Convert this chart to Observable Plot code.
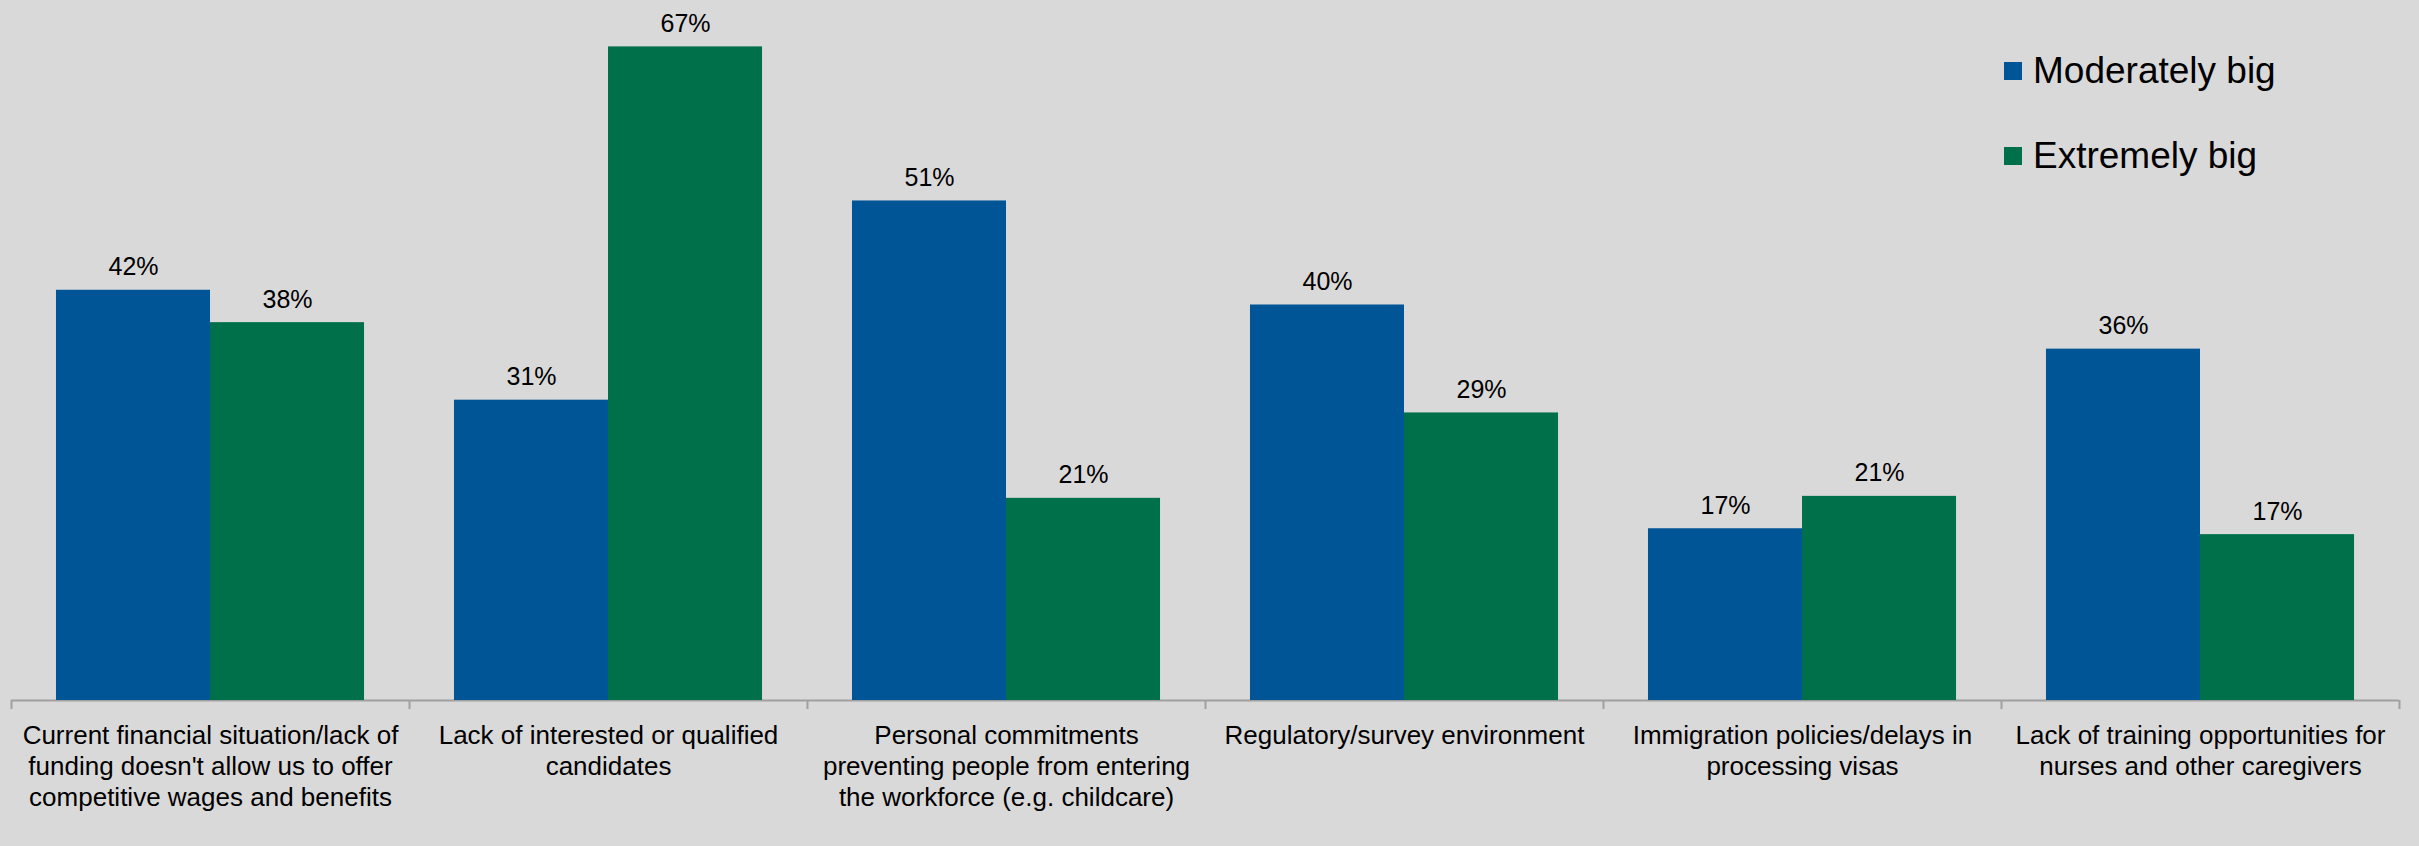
<!DOCTYPE html>
<html>
<head>
<meta charset="utf-8">
<script src="https://cdn.jsdelivr.net/npm/d3@7"></script>
<script src="https://cdn.jsdelivr.net/npm/@observablehq/plot@0.6"></script>
<style>
  html, body { margin: 0; padding: 0; background: #d9d9d9; }
  #wrap { position: relative; width: 2419px; height: 846px; overflow: hidden; }
  #legend { position: absolute; left: 2004px; top: 50px; }
  .lg-swatch { height: 42px; margin-bottom: 42px; font-size: 37px !important; color: #000; font-family: "Liberation Sans", Arial, sans-serif; }
  .lg-swatch svg { margin-right: 11px !important; }
</style>
</head>
<body>
<div id="wrap"><div id="chart"></div><div id="legend"></div></div>
<script>
const categories = [
  "Current financial situation/lack of funding doesn't allow us to offer competitive wages and benefits",
  "Lack of interested or qualified candidates",
  "Personal commitments preventing people from entering the workforce (e.g. childcare)",
  "Regulatory/survey environment",
  "Immigration policies/delays in processing visas",
  "Lack of training opportunities for nurses and other caregivers"
];
const tickLabels = [
  "Current financial situation/lack of\nfunding doesn't allow us to offer\ncompetitive wages and benefits",
  "Lack of interested or qualified\ncandidates",
  "Personal commitments\npreventing people from entering\nthe workforce (e.g. childcare)",
  "Regulatory/survey environment",
  "Immigration policies/delays in\nprocessing visas",
  "Lack of training opportunities for\nnurses and other caregivers"
];
const seriesNames = ["Moderately big", "Extremely big"];
// bar heights
const moderatelyBig = [41.8, 30.6, 50.9, 40.3, 17.5, 35.8];
const extremelyBig = [38.5, 66.6, 20.6, 29.3, 20.8, 16.9];
// value labels as printed
const moderatelyBigLabels = ["42%", "31%", "51%", "40%", "17%", "36%"];
const extremelyBigLabels = ["38%", "67%", "21%", "29%", "21%", "17%"];
const colors = ["#005596", "#00704a"];

const mod = categories.map((c, i) => ({category: c, series: seriesNames[0], value: moderatelyBig[i], label: moderatelyBigLabels[i]}));
const ext = categories.map((c, i) => ({category: c, series: seriesNames[1], value: extremelyBig[i], label: extremelyBigLabels[i]}));
const labels = categories.map((c, i) => ({category: c, label: tickLabels[i]}));

const W = 2419, H = 846;
const mL = 11, mR = 20, mT = 13, mB = 146;
const step = (W - mL - mR) / categories.length;
const outer = step * 0.113;
const barW = (step - 2 * outer) / 2;
const font = "'Liberation Sans', Arial, sans-serif";

const plot = Plot.plot({
  width: W, height: H,
  marginLeft: mL, marginRight: mR, marginTop: mT, marginBottom: mB,
  style: {background: "#d9d9d9", fontFamily: font},
  x: {domain: categories, padding: 0, axis: null},
  y: {domain: [0, 70], axis: null},
  color: {domain: seriesNames, range: colors},
  marks: [
    Plot.ruleY([0], {stroke: "#a0a0a0", strokeWidth: 2}),
    Plot.barY(mod, {x: "category", y: "value", fill: "series", insetLeft: outer, insetRight: outer + barW}),
    Plot.barY(ext, {x: "category", y: "value", fill: "series", insetLeft: outer + barW, insetRight: outer}),
    Plot.ruleX(categories, {x: d => d, y1: 0, y2: 0, insetBottom: -9, dx: -step / 2, stroke: "#a0a0a0", strokeWidth: 2}),
    Plot.ruleX(categories.slice(-1), {x: d => d, y1: 0, y2: 0, insetBottom: -9, dx: step / 2, stroke: "#a0a0a0", strokeWidth: 2}),
    Plot.text(mod, {x: "category", y: "value", text: "label", dx: -barW / 2, dy: -15, lineAnchor: "bottom", fontSize: 25, fill: "#000"}),
    Plot.text(ext, {x: "category", y: "value", text: "label", dx: barW / 2, dy: -15, lineAnchor: "bottom", fontSize: 25, fill: "#000"}),
    Plot.text(labels, {x: "category", y: () => 0, text: "label", lineAnchor: "top", dy: 22, fontSize: 26, lineHeight: 1.19, fill: "#000"})
  ]
});
document.getElementById("chart").appendChild(plot);

const leg = plot.legend("color", {columns: 1, swatchSize: 18, className: "lg"});
document.getElementById("legend").appendChild(leg);
</script>
</body>
</html>
